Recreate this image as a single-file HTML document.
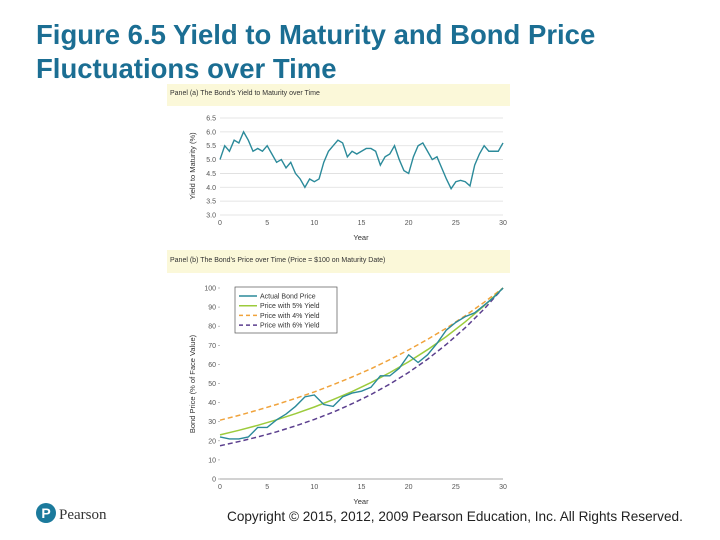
<!DOCTYPE html>
<html><head><meta charset="utf-8"><style>
body{margin:0;width:720px;height:540px;background:#fff;overflow:hidden;position:relative;font-family:"Liberation Sans",sans-serif}
#title{position:absolute;left:36px;top:18px;font-size:27.5px;font-weight:bold;color:#1b6e93;line-height:34px;margin:0;white-space:nowrap}
#copy{position:absolute;left:227px;top:509px;font-size:13.6px;color:#222;white-space:nowrap}
svg{position:absolute;left:0;top:0}
</style></head><body>
<h1 id="title">Figure 6.5 Yield to Maturity and Bond Price<br>Fluctuations over Time</h1>
<svg id="chart" width="720" height="540" font-family="Liberation Sans, sans-serif"></svg>
<div id="copy">Copyright © 2015, 2012, 2009 Pearson Education, Inc. All Rights Reserved.</div>
<script>
const years = [0,5,10,15,20,25,30];
const yieldTicks = [3.0,3.5,4.0,4.5,5.0,5.5,6.0,6.5];
const priceTicks = [0,10,20,30,40,50,60,70,80,90,100];
const yieldValues = [5.0,5.5,5.3,5.7,5.6,6.0,5.7,5.3,5.4,5.3,5.5,5.2,4.9,5.0,4.7,4.9,4.5,4.3,4.0,4.3,4.2,4.3,4.9,5.3,5.5,5.7,5.6,5.1,5.3,5.2,5.3,5.4,5.4,5.3,4.8,5.1,5.2,5.5,5.0,4.6,4.5,5.1,5.5,5.6,5.3,5.0,5.1,4.7,4.3,3.95,4.2,4.25,4.2,4.05,4.8,5.2,5.5,5.3,5.3,5.3,5.6];
const actualPrice = [22,21,21,22,27,27,31,34,38,43,44,39,38,43,45,46,48,54,54,58,65,61,65,71,78,82,85,87,91,95,100];
const curveYears = [0,2,4,6,8,10,12,14,16,18,20,22,24,26,28,30];
const price5 = [23.1,25.5,28.1,31.0,34.2,37.7,41.6,45.8,50.5,55.7,61.4,67.7,74.6,82.3,90.7,100];
const price4 = [30.8,33.3,36.1,39.0,42.2,45.6,49.4,53.4,57.7,62.5,67.6,73.1,79.0,85.5,92.5,100];
const price6 = [17.4,19.6,22.0,24.7,27.8,31.2,35.0,39.4,44.2,49.7,55.8,62.7,70.5,79.2,89.0,100];

const NS='http://www.w3.org/2000/svg';
const svg=document.getElementById('chart');
function el(t,a,p){const e=document.createElementNS(NS,t);for(const k in a)e.setAttribute(k,a[k]);(p||svg).appendChild(e);return e;}
const X0=220,X1=503;
const xs=v=>X0+(X1-X0)*v/30;
const ya=v=>215-(215-118)*(v-3)/3.5;
const yb=v=>479-(479-288)*v/100;

let bg=el('rect',{x:167,y:84,width:343,height:420,fill:'#fff'});


let ha=el('rect',{x:167,y:84,width:343,height:22,fill:'#fbf8d9'});


let ta=el('text',{x:170,y:95,'font-size':7,fill:'#333'});ta.textContent="Panel (a) The Bond's Yield to Maturity over Time";


let hb=el('rect',{x:167,y:250,width:343,height:23,fill:'#fbf8d9'});


let tb=el('text',{x:170,y:262,'font-size':7,fill:'#333'});tb.textContent="Panel (b) The Bond's Price over Time (Price = $100 on Maturity Date)";



yieldTicks.forEach(v=>{
  const g=el('line',{x1:X0,x2:X1,y1:ya(v),y2:ya(v),stroke:'#ddd','stroke-width':0.8});
  
  
  const t=el('text',{x:X0-4,y:ya(v)+2.5,'font-size':7,fill:'#555','text-anchor':'end'});t.textContent=v.toFixed(1);
  
  
});
years.forEach(v=>{
  const t=el('text',{x:xs(v),y:225,'font-size':7,fill:'#555','text-anchor':'middle'});t.textContent=v;
  
  
  const t2=el('text',{x:xs(v),y:489,'font-size':7,fill:'#555','text-anchor':'middle'});t2.textContent=v;
  
  
});
let xa=el('text',{x:361,y:240,'font-size':7.5,fill:'#333','text-anchor':'middle'});xa.textContent='Year';


let yat=el('text',{x:0,y:0,'font-size':7.5,fill:'#333','text-anchor':'middle',transform:'translate(195,166) rotate(-90)'});yat.textContent='Yield to Maturity (%)';


let yl=el('polyline',{fill:'none',stroke:'#2b8a9a','stroke-width':1.4,points:yieldValues.map((v,i)=>xs(i*30/(yieldValues.length-1))+','+ya(v)).join(' ')});



priceTicks.forEach(v=>{
  const t=el('text',{x:X0-4,y:yb(v)+2.5,'font-size':7,fill:'#555','text-anchor':'end'});t.textContent=v;
  
  
  const k=el('line',{x1:X0-2,x2:X0,y1:yb(v),y2:yb(v),stroke:'#999','stroke-width':0.6});
  
  
});
let ax=el('line',{x1:X0,x2:X1,y1:yb(0),y2:yb(0),stroke:'#888','stroke-width':0.7});


let xb=el('text',{x:361,y:504,'font-size':7.5,fill:'#333','text-anchor':'middle'});xb.textContent='Year';


let ybt=el('text',{x:0,y:0,'font-size':7.5,fill:'#333','text-anchor':'middle',transform:'translate(195,384) rotate(-90)'});ybt.textContent='Bond Price (% of Face Value)';


function curve(arr,col,dash){return el('polyline',{fill:'none',stroke:col,'stroke-width':1.5,'stroke-dasharray':dash||'none',points:arr.map((v,i)=>xs(curveYears[i])+','+yb(v)).join(' ')});}
let c4=curve(price4,'#f0a33c','5,3');


let c6=curve(price6,'#5b3f8e','5,3');


let c5=curve(price5,'#9ccb3c');


let ap=el('polyline',{fill:'none',stroke:'#2b8a9a','stroke-width':1.4,points:actualPrice.map((v,i)=>xs(i)+','+yb(v)).join(' ')});



let lg=el('rect',{x:235,y:287,width:102,height:46,fill:'#fff',stroke:'#555','stroke-width':0.7});


[['Actual Bond Price','#2b8a9a','none'],['Price with 5% Yield','#9ccb3c','none'],['Price with 4% Yield','#f0a33c','4,3'],['Price with 6% Yield','#5b3f8e','4,3']].forEach((d,i)=>{
  const y=296+i*9.7;
  const l=el('line',{x1:239,x2:257,y1:y,y2:y,stroke:d[1],'stroke-width':1.5,'stroke-dasharray':d[2]});
  
  
  const t=el('text',{x:260,y:y+2.5,'font-size':7,fill:'#333'});t.textContent=d[0];
  
  
});

let lc=el('circle',{cx:46,cy:513,r:10,fill:'#1b7a9c'});


let lp=el('text',{x:46,y:518,'font-size':14,'font-weight':'bold',fill:'#fff','text-anchor':'middle'});lp.textContent='P';


let lt=el('text',{x:59,y:519,'font-size':15,fill:'#333','font-family':'Liberation Serif, serif'});lt.textContent='Pearson';


</script>
</body></html>
